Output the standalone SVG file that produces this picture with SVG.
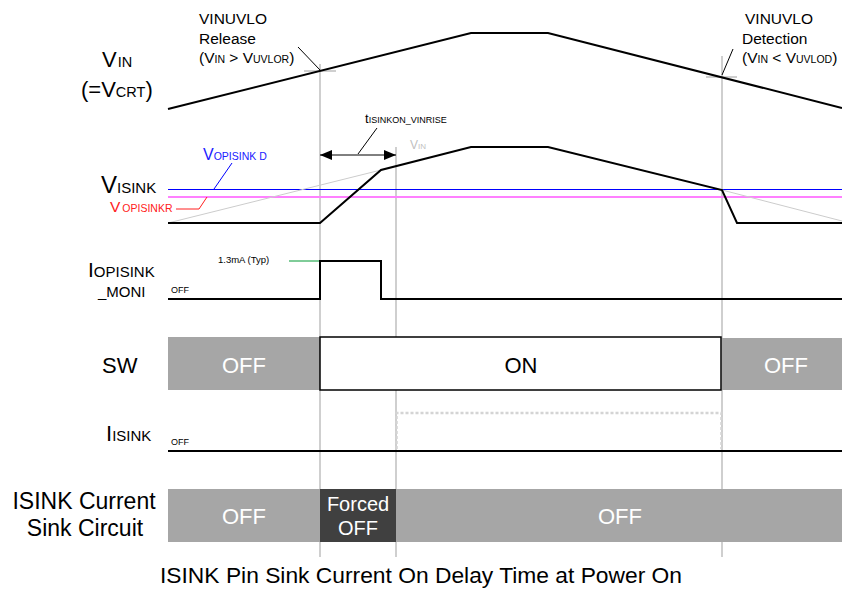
<svg xmlns="http://www.w3.org/2000/svg" width="842" height="590" viewBox="0 0 842 590">
<style>
text{font-family:"Liberation Sans",Arial,sans-serif;fill:#000}
.sig{fill:none;stroke:#000;stroke-width:2;stroke-linejoin:miter}
.guide{fill:none;stroke:#bfbfbf;stroke-width:1.5}
.faint{fill:none;stroke:#cccccc;stroke-width:1}
.lead{fill:none;stroke:#000;stroke-width:1}
.big{font-size:22px}
.sub{font-size:14.5px}
.note{font-size:15.5px}
.nsub{font-size:10.5px}
.wt{fill:#fff;font-size:22px}
.grey{fill:#a6a6a6}
</style>
<defs>
<marker id="ah" markerWidth="12" markerHeight="10" refX="12" refY="5" orient="auto-start-reverse" markerUnits="userSpaceOnUse">
<path d="M0,0 L12,5 L0,10 Z" fill="#000"/>
</marker>
</defs>
<rect width="842" height="590" fill="#fff"/>

<g id="guides">
<line class="guide" x1="320" y1="64" x2="320" y2="557"/>
<line class="guide" x1="722" y1="56" x2="722" y2="557"/>
<line class="guide" x1="396" y1="147" x2="396" y2="557"/>
<line class="guide" x1="304" y1="71" x2="336" y2="71"/>
<line class="guide" x1="706" y1="77" x2="737" y2="77"/>
</g>

<g id="vin-row">
<text class="big" x="102" y="67">V<tspan class="sub" dx="1">IN</tspan></text>
<text class="big" x="81" y="97">(=V<tspan class="sub">CRT</tspan>)</text>
<polyline class="sig" points="168,109 471,33 548,33 842,108"/>
</g>

<g id="release-label">
<text class="note" x="199" y="24">VINUVLO</text>
<text class="note" x="199" y="44">Release</text>
<text class="note" x="199" y="63">(V<tspan class="nsub">IN</tspan> &gt; V<tspan class="nsub">UVLOR</tspan>)</text>
</g>

<g id="detect-label">
<text class="note" x="745" y="24">VINUVLO</text>
<text class="note" x="742" y="44">Detection</text>
<text class="note" x="742" y="63">(V<tspan class="nsub">IN</tspan> &lt; V<tspan class="nsub">UVLOD</tspan>)</text>
</g>

<g id="visink-row">
<text class="big" x="101" y="193" style="font-size:24px">V<tspan class="sub" style="font-size:15px">ISINK</tspan></text>
<line x1="168" y1="189.5" x2="842" y2="189.5" stroke="#0000ff" stroke-width="1.2"/>
<line x1="168" y1="197" x2="842" y2="197" stroke="#ff80ff" stroke-width="2"/>
<line class="faint" x1="168" y1="223" x2="381" y2="170"/>
<line class="faint" x1="722" y1="190" x2="842" y2="221"/>
<polyline class="sig" points="168,223 320,223 381,170 471,147 548,147 722,190 737,223 842,223"/>
<text x="203" y="160" style="font-size:16px;fill:#2020ff">V<tspan style="font-size:10.5px;fill:#2020ff">OPISINK D</tspan></text>
<line x1="232" y1="163" x2="214" y2="189" stroke="#0000ff" stroke-width="1"/>
<text x="110" y="212" style="font-size:15.5px;fill:#ff2020">V<tspan style="font-size:10.5px;fill:#ff2020" dx="2">OPISINKR</tspan></text>
<polyline points="176,209 199,209 207,197" fill="none" stroke="#ff2020" stroke-width="1"/>
<text x="410" y="149" style="font-size:12px;fill:#bfbfbf">V<tspan style="font-size:8px;fill:#bfbfbf">IN</tspan></text>
</g>

<g id="delay-arrow">
<line class="lead" x1="320" y1="155" x2="396" y2="155" stroke-width="2" marker-start="url(#ah)" marker-end="url(#ah)"/>
<line class="lead" x1="358" y1="154" x2="377" y2="128"/>
<text x="365" y="123" style="font-size:13px">t<tspan style="font-size:9px">ISINKON_VINRISE</tspan></text>
</g>

<g id="iopisink-row">
<text x="88" y="277" style="font-size:21px">I<tspan style="font-size:15px">OPISINK</tspan></text>
<text x="98" y="297" style="font-size:15px">_MONI</text>
<text x="171" y="293" style="font-size:9px">OFF</text>
<text x="218" y="263" style="font-size:9.5px">1.3mA (Typ)</text>
<line x1="289" y1="261" x2="320" y2="261" stroke="#009933" stroke-width="1"/>
<polyline class="sig" points="168,299 320,299 320,261 381,261 381,299 842,299"/>
</g>

<g id="sw-row">
<text class="big" x="102" y="373">SW</text>
<rect class="grey" x="168" y="337" width="152" height="53"/>
<rect x="320" y="337" width="401" height="53" fill="#fff" stroke="#000" stroke-width="1.5"/>
<rect class="grey" x="722" y="338" width="120" height="52"/>
<text class="wt" x="244" y="373" text-anchor="middle">OFF</text>
<text class="big" x="521" y="373" text-anchor="middle">ON</text>
<text class="wt" x="786" y="373" text-anchor="middle">OFF</text>
</g>

<g id="iisink-row">
<text x="106" y="441" style="font-size:22px">I<tspan style="font-size:15px">ISINK</tspan></text>
<text x="171" y="445" style="font-size:9px">OFF</text>
<polyline points="396.5,449 396.5,413 721.5,413 721.5,449" fill="none" stroke="#d4d4d4" stroke-width="2.5" stroke-dasharray="3,2"/>
<line x1="168" y1="451" x2="842" y2="451" stroke="#000" stroke-width="2"/>
</g>

<g id="sink-circuit-row">
<text class="big" x="84" y="509" text-anchor="middle" style="font-size:23px">ISINK Current</text>
<text class="big" x="85" y="536" text-anchor="middle" style="font-size:23px">Sink Circuit</text>
<rect class="grey" x="168" y="489" width="152" height="53"/>
<rect x="320" y="489" width="76" height="53" fill="#404040"/>
<rect class="grey" x="396" y="489" width="446" height="53"/>
<text class="wt" x="244" y="524" text-anchor="middle">OFF</text>
<text class="wt" x="358" y="511" text-anchor="middle" style="font-size:20px">Forced</text>
<text class="wt" x="358" y="535" text-anchor="middle" style="font-size:20px">OFF</text>
<text class="wt" x="620" y="524" text-anchor="middle">OFF</text>
</g>

<g id="leaders">
<line class="lead" x1="298" y1="47" x2="320" y2="70"/>
<line class="lead" x1="733" y1="49" x2="722" y2="75"/>
</g>

<text x="421" y="583" text-anchor="middle" style="font-size:22px" textLength="522" lengthAdjust="spacingAndGlyphs">ISINK Pin Sink Current On Delay Time at Power On</text>
</svg>
